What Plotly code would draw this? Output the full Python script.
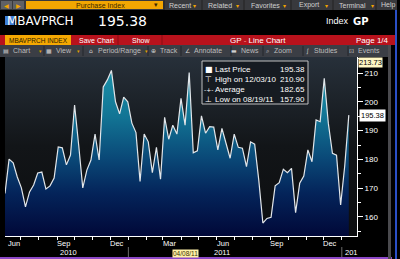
import pandas as pd
import plotly.graph_objects as go

# ---------------- data ----------------
ticker = "MBAVPRCH"
last_price = 195.38
high_value, high_date = 210.90, "12/03/10"
avg_value = 182.65
low_value, low_date = 157.90, "08/19/11"
axis_top_label = "213.73"
cursor_label = "04/08/11"

week_end = "2012-01-13"
values = [168.2, 180.1, 178.8, 173.9, 170.1, 163.5, 168.7, 171.1, 175.3, 175.6,
          169.7, 170.8, 173.5, 184.3, 184.0, 178.1, 181.5, 198.9, 185.0, 170.1,
          176.3, 179.8, 188.8, 179.8, 205.2, 207.6, 210.9, 200.0, 195.8, 201.6,
          200.0, 192.6, 189.3, 172.3, 188.8, 186.1, 175.4, 184.2, 173.1, 194.6,
          187.0, 191.9, 188.8, 201.2, 191.9, 210.2, 182.3, 183.0, 195.1, 189.1,
          191.4, 191.2, 183.3, 190.8, 185.6, 180.4, 188.8, 184.2, 183.9, 177.5,
          186.1, 185.3, 172.8, 157.9, 159.5, 159.9, 170.8, 171.9, 176.6, 175.4,
          176.9, 161.5, 171.7, 174.2, 183.3, 179.2, 193.7, 193.1, 208.2, 192.5,
          182.1, 181.5, 164.2, 177.7, 195.38]
dates = pd.date_range(end=week_end, periods=len(values), freq="7D")

x_range = ["2010-06-04", "2012-01-27"]
y_range = [153.4, 215.56]
y_ticks = [160, 170, 180, 190, 200, 210]
grid_dates = ["2010-07-01", "2010-10-01", "2011-01-01", "2011-04-01",
              "2011-07-01", "2011-10-01", "2012-01-01"]
month_labels = ["Jun", "Sep", "Dec", "Mar", "Jun", "Sep", "Dec"]
month_label_dates = ["2010-06-20", "2010-09-12", "2010-12-12", "2011-03-12",
                     "2011-06-12", "2011-09-12", "2011-12-12"]
year_labels = ["2010", "2011", "201"]
year_label_dates = ["2010-09-20", "2011-06-10", "2012-01-18"]
year_break_dates = ["2011-01-01", "2012-01-01"]

menu_items = ["Recent", "Related", "Favorites", "Export", "Terminal", "Help"]
toolbar_items = ["Chart", "View", "Period/Range", "Track", "Annotate",
                 "News", "Zoom", "Studies", "Events"]

# ---------------- geometry helpers (pixels -> paper) ----------------
W, H = 400, 259
L, R, T, B = 5, 357, 57, 236


def fx(px):
    return (px - L) / (R - L)


def fy(py):
    return (B - py) / (B - T)


shapes = []
annotations = []


def rect(x0, y0, x1, y1, fill, line_color=None, line_width=0, opacity=1.0):
    shapes.append(dict(type="rect", xref="paper", yref="paper",
                       x0=fx(x0), x1=fx(x1), y0=fy(y1), y1=fy(y0),
                       fillcolor=fill, opacity=opacity, layer="above",
                       line=dict(color=line_color or fill, width=line_width)))


def vline(x, y0, y1, color, width=1):
    shapes.append(dict(type="line", xref="paper", yref="paper",
                       x0=fx(x), x1=fx(x), y0=fy(y1), y1=fy(y0),
                       layer="above", line=dict(color=color, width=width)))


def txt(x, y, s, size=7, color="#c8c8c8", anchor="left",
        family="Liberation Sans", bg=None, pad=0):
    a = dict(xref="paper", yref="paper", x=fx(x), y=fy(y), text=s,
             showarrow=False, xanchor=anchor, yanchor="middle",
             font=dict(size=size, color=color, family=family), borderpad=pad)
    if bg:
        a["bgcolor"] = bg
    annotations.append(a)


fig = go.Figure()

# plot background gradient
fig.add_trace(go.Scatter(
    x=x_range, y=[y_range[1], y_range[1]], mode="lines", line=dict(width=0),
    fill="tozeroy", hoverinfo="skip",
    fillgradient=dict(type="vertical", start=y_range[0], stop=y_range[1],
                      colorscale=[[0, "#0c0d0f"], [0.5, "#121518"],
                                  [1, "#27303a"]])))

# price area
fig.add_trace(go.Scatter(
    x=dates, y=values, mode="lines",
    line=dict(color="#e2e6ea", width=1.2),
    fill="tozeroy", hoverinfo="skip",
    fillgradient=dict(type="vertical", start=y_range[0], stop=213,
                      colorscale=[[0, "#010838"], [0.25, "#04245a"],
                                  [0.45, "#0a4877"], [0.7, "#127595"],
                                  [1, "#1c95ac"]])))

# ---------------- header chrome ----------------
rect(0, 0, 397, 10, "#38393d")
rect(1, 1, 12, 9, "#606166")
rect(13, 1, 24, 9, "#606166")
txt(6.5, 5, "◀", 6, "#f0a400", "center", "DejaVu Sans")
txt(18.5, 5, "▶", 6, "#f0a400", "center", "DejaVu Sans")
rect(26, 1, 163, 9, "#f2a602")
txt(100, 5, "Purchase Index", 7, "#3a2800", "center")
txt(156, 5, "▾", 7, "#3a2800", "center", "DejaVu Sans")
menu_x = [168, 207, 250, 298, 338, 380]
arrow_x = [194, 237, 284, 326, 372]
for m, xx in zip(menu_items, menu_x):
    txt(xx, 5, m, 7, "#cfcfcf")
for xx in arrow_x:
    txt(xx, 5, "▾", 6, "#f0a400", "center", "DejaVu Sans")
for xx in [164, 202, 244, 291, 333, 376]:
    vline(xx, 0, 10, "#222222")

# ticker line
rect(5, 16, 14, 25, "#3f7fd8")
txt(5.5, 21, ticker, 12, "#ffffff", "left", "DejaVu Sans", pad=0)
txt(97, 21, f"{last_price:.2f}", 14, "#ffffff", "left", "DejaVu Sans")
txt(325, 21, "Index", 9, "#ffffff", "left")
txt(352, 21, "<b>GP</b>", 10, "#ffffff", "left", "DejaVu Sans")

# red title bar
rect(0, 35, 396, 45, "#b8121c")
rect(5, 35, 71, 45, "#f5a802")
txt(38, 40, f"{ticker} INDEX", 6.5, "#2b1a00", "center")
vline(118, 35, 45, "#8a0c12")
vline(162, 35, 45, "#8a0c12")
txt(78, 40, "Save Chart", 7, "#ffffff")
txt(131, 40, "Show", 7, "#ffffff")
txt(229, 40, "GP <span style='color:#ff9a9a'>-</span> Line Chart", 8, "#ffffff")
txt(355, 40, "Page 1/4", 8, "#ffffff")

# toolbar
rect(0, 45, 388, 57, "#3b3e45")
tool_x = [12, 55, 97, 159, 193, 240, 273, 313, 357]
icons = ["▤", "▦", "⌂", "⊕", "∠", "▬", "⌕", "∫", "⊡"]
for item, xx, ic in zip(toolbar_items, tool_x, icons):
    txt(xx, 51, item, 7, "#bdbdbd")
    txt(xx - 6, 51, ic, 6, "#d0d0d0", "center", "DejaVu Sans")
for xx in [40, 78, 146]:
    txt(xx, 51, "▾", 5, "#e0a000", "center", "DejaVu Sans")
for xx in [44, 83, 148, 181, 231, 263, 303, 348]:
    vline(xx, 46, 56, "#25272c")

# legend box
rect(202, 61, 308, 104, "#161b21", "#c8c8c8", 1, 0.95)
leg_rows = [("■", "Last Price", last_price),
            ("⊤", f"High on {high_date}", high_value),
            ("-+-", "Average", avg_value),
            ("⊥", f"Low on {low_date}", low_value)]
for i, (ic, lab, val) in enumerate(leg_rows):
    yy = 69 + i * 10
    txt(208.5, yy, ic, 8 if i != 2 else 6, "#ffffff", "center", "DejaVu Sans")
    txt(214, yy, lab, 8, "#ffffff")
    txt(306, yy, f"{val:.2f}", 8, "#ffffff", "right")

# right side value boxes
annotations.append(dict(xref="paper", yref="paper", x=fx(358), y=fy(62),
                        text=axis_top_label, showarrow=False, xanchor="left",
                        yanchor="middle", bgcolor="#fff6c4", borderpad=0,
                        font=dict(size=7.5, color="#000000",
                                  family="Liberation Sans")))
annotations.append(dict(xref="paper", yref="y", x=fx(359), y=last_price,
                        text=f"{last_price:.2f}", showarrow=False,
                        xanchor="left", yanchor="middle", bgcolor="#ffffff",
                        borderpad=1,
                        font=dict(size=7.5, color="#000000",
                                  family="Liberation Sans")))

# bottom axis labels
for lab, d in zip(month_labels, month_label_dates):
    annotations.append(dict(xref="x", yref="paper", x=d, y=fy(243.5),
                            text=lab, showarrow=False, xanchor="center",
                            yanchor="middle",
                            font=dict(size=7.5, color="#ffffff",
                                      family="Liberation Sans")))
for lab, d in zip(year_labels, year_label_dates):
    annotations.append(dict(xref="x", yref="paper", x=d, y=fy(252.5),
                            text=lab, showarrow=False, xanchor="center",
                            yanchor="middle",
                            font=dict(size=7.5, color="#ffffff",
                                      family="Liberation Sans")))
for d in year_break_dates:
    shapes.append(dict(type="line", xref="x", yref="paper", x0=d, x1=d,
                       y0=fy(257), y1=fy(247), layer="above",
                       line=dict(color="#6a6a6a", width=1)))
annotations.append(dict(xref="paper", yref="paper", x=fx(185), y=fy(253),
                        text=cursor_label, showarrow=False, xanchor="center",
                        yanchor="middle", bgcolor="#fff2a8", borderpad=0,
                        font=dict(size=6.5, color="#3a3000",
                                  family="Liberation Sans")))

# frame strips
rect(0, 257, 392, 259, "#8c48c8")
rect(388, 45, 391, 259, "#4a4a4e")
rect(395, 10, 397, 259, "#2a50c8")

fig.update_layout(
    width=W, height=H,
    margin=dict(l=L, r=W - R, t=T, b=H - B),
    paper_bgcolor="#000000", plot_bgcolor="#121518",
    showlegend=False,
    shapes=shapes, annotations=annotations,
    xaxis=dict(type="date", range=x_range, tickmode="array",
               tickvals=grid_dates, showticklabels=False,
               ticks="outside", ticklen=3, tickcolor="#ffffff",
               showgrid=True, gridcolor="#5d6670", griddash="dot",
               gridwidth=1, showline=True, linecolor="#ffffff",
               linewidth=1, zeroline=False,
               minor=dict(ticks="outside", ticklen=3, tickcolor="#ffffff",
                          dtick="M1", tick0="2010-01-01", showgrid=False)),
    yaxis=dict(range=y_range, side="right", tickmode="array",
               tickvals=y_ticks, ticks="outside", ticklen=5,
               tickcolor="#ffffff", showgrid=True, gridcolor="#5d6670",
               griddash="dot", gridwidth=1, showline=True,
               linecolor="#ffffff", linewidth=1, zeroline=False,
               tickfont=dict(size=8, color="#ffffff",
                             family="Liberation Sans"),
               minor=dict(ticks="outside", ticklen=3, tickcolor="#ffffff",
                          dtick=5, tick0=0, showgrid=False)),
)

fig.write_html("out.html")
